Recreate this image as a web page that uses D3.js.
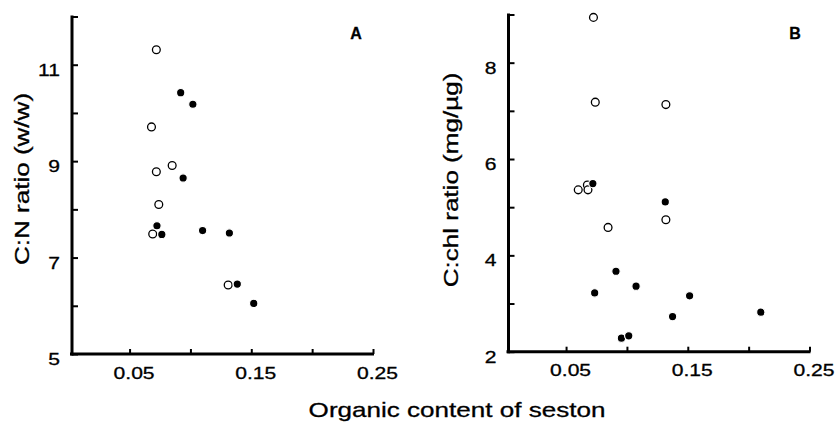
<!DOCTYPE html>
<html>
<head>
<meta charset="utf-8">
<script src="https://cdn.jsdelivr.net/npm/d3@7"></script>
<style>
  html, body { margin: 0; padding: 0; background: #fff; }
  svg { display: block; }
  text { font-family: "Liberation Sans", Arial, Helvetica, sans-serif; fill: #000; stroke: #000; stroke-width: 0.3px; }
</style>
</head>
<body>
<svg id="chart" width="838" height="426"></svg>
<script>
// Organic content of seston (x) for both panels
const xTickValues = [0.05, 0.10, 0.15, 0.20, 0.25];
const xTickLabels = ["0.05", "", "0.15", "", "0.25"];

// Panel A: C:N ratio (w/w)
const yTicksA = [5, 6, 7, 8, 9, 10, 11, 12];
const yLabelsA = ["5", "", "7", "", "9", "", "11", ""];
const openAx   = [0.072, 0.068, 0.085, 0.072, 0.074, 0.069, 0.131];
const openAy   = [11.31, 9.71, 8.91, 8.78, 8.10, 7.49, 6.43];
const filledAx = [0.092, 0.102, 0.094, 0.0725, 0.0765, 0.110, 0.132, 0.1385, 0.152];
const filledAy = [10.42, 10.18, 8.65, 7.66, 7.48, 7.56, 7.51, 6.45, 6.05];

// Panel B: C:chl ratio (mg/µg)
const yTicksB = [2, 3, 4, 5, 6, 7, 8, 9];
const yLabelsB = ["2", "", "4", "", "6", "", "8", ""];
const openBx   = [0.0725, 0.074, 0.132, 0.060, 0.0675, 0.068, 0.0845, 0.132];
const openBy   = [8.94, 7.18, 7.13, 5.36, 5.46, 5.36, 4.58, 4.74];
const filledBx = [0.072, 0.1315, 0.091, 0.1075, 0.0735, 0.1515, 0.210, 0.1375, 0.0955, 0.1015];
const filledBy = [5.49, 5.11, 3.67, 3.36, 3.22, 3.16, 2.82, 2.73, 2.28, 2.33];

const svg = d3.select("#chart");
const STRETCH = 1.24;

// widen glyphs horizontally along the text direction
function stretch(sel, k) {
  sel.each(function () {
    const w = this.getComputedTextLength();
    if (w > 0) {
      this.setAttribute("textLength", w * k);
      this.setAttribute("lengthAdjust", "spacingAndGlyphs");
    }
  });
}

function panel(cfg) {
  const x = d3.scaleLinear().domain([0.0027, 0.25]).range([cfg.left, cfg.right]);
  const y = d3.scaleLinear().domain(cfg.yDomain).range([cfg.bottom, cfg.top]);
  const g = svg.append("g");

  // x axis, ticks pointing inward
  const xAxis = d3.axisBottom(x)
    .tickValues(xTickValues)
    .tickFormat((d, i) => xTickLabels[i])
    .tickSizeInner(-5).tickSizeOuter(0).tickPadding(0);
  const gx = g.append("g").attr("transform", `translate(0,${cfg.bottom})`).call(xAxis);
  gx.select(".domain").attr("stroke", "#000").attr("stroke-width", 3)
    .attr("d", `M${cfg.left - 2},0H${cfg.right + 1}`);
  gx.selectAll(".tick line").attr("stroke", "#000").attr("stroke-width", 2);
  gx.selectAll(".tick text")
    .attr("y", 24.5).attr("dy", 0).attr("dx", 4)
    .style("font-size", "17px");
  stretch(gx.selectAll(".tick text"), STRETCH);

  // y axis, ticks pointing inward
  const yAxis = d3.axisLeft(y)
    .tickValues(cfg.yTicks)
    .tickFormat((d, i) => cfg.yLabels[i])
    .tickSizeInner(-6).tickSizeOuter(0).tickPadding(0);
  const gy = g.append("g").attr("transform", `translate(${cfg.left},0)`).call(yAxis);
  gy.select(".domain").attr("stroke", "#000").attr("stroke-width", 3)
    .attr("d", `M0,${cfg.top - 1}V${cfg.bottom + 1.5}`);
  gy.selectAll(".tick line").attr("stroke", "#000").attr("stroke-width", 2);
  gy.selectAll(".tick text")
    .attr("x", -12).attr("dy", "0.62em")
    .style("font-size", "17px");
  stretch(gy.selectAll(".tick text"), STRETCH);

  // y axis title
  const yt = g.append("text")
    .attr("transform", `translate(${cfg.titleX},${cfg.titleY}) rotate(-90)`)
    .attr("text-anchor", "middle")
    .style("font-size", "21px")
    .text(cfg.title);
  stretch(yt, STRETCH);

  // panel letter
  g.append("text")
    .attr("x", cfg.letterX).attr("y", 39)
    .attr("text-anchor", "middle")
    .style("font-size", "16px").style("font-weight", "bold")
    .text(cfg.letter);

  // open symbols
  const open = cfg.ox.map((v, i) => [v, cfg.oy[i]]);
  g.append("g").selectAll("circle").data(open).join("circle")
    .attr("cx", d => x(d[0])).attr("cy", d => y(d[1]))
    .attr("r", 3.9).attr("fill", "#fff")
    .attr("stroke", "#000").attr("stroke-width", 1.3);

  // filled symbols with a thin white halo
  const filled = cfg.fx.map((v, i) => [v, cfg.fy[i]]);
  g.append("g").selectAll("circle").data(filled).join("circle")
    .attr("cx", d => x(d[0])).attr("cy", d => y(d[1]))
    .attr("r", 4.2).attr("fill", "#000")
    .attr("stroke", "#fff").attr("stroke-width", 1.2);
}

panel({
  left: 72, right: 373, top: 16.5, bottom: 354,
  yDomain: [5, 12], yTicks: yTicksA, yLabels: yLabelsA,
  title: "C:N ratio (w/w)", titleX: 28.5, titleY: 179,
  letter: "A", letterX: 356,
  ox: openAx, oy: openAy, fx: filledAx, fy: filledAy
});

panel({
  left: 508.5, right: 809.5, top: 14.5, bottom: 351.7,
  yDomain: [2, 9], yTicks: yTicksB, yLabels: yLabelsB,
  title: "C:chl ratio (mg/\u00b5g)", titleX: 458, titleY: 180,
  letter: "B", letterX: 795,
  ox: openBx, oy: openBy, fx: filledBx, fy: filledBy
});

// shared x axis title
const xt = svg.append("text")
  .attr("x", 457).attr("y", 417)
  .attr("text-anchor", "middle")
  .style("font-size", "21px")
  .text("Organic content of seston");
stretch(xt, STRETCH);
</script>
</body>
</html>
